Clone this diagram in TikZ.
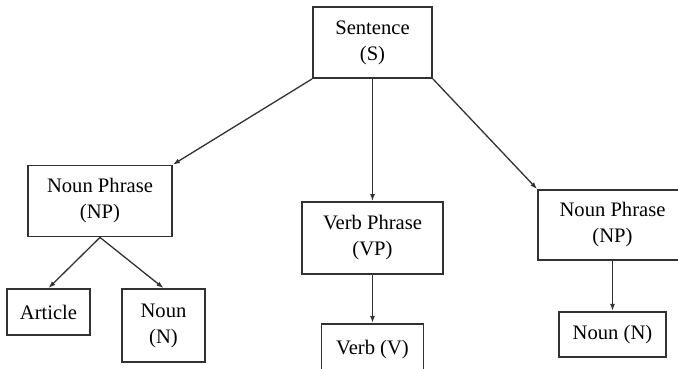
\documentclass[tikz,border=0pt]{standalone}
\usepackage{fontspec}
\setmainfont{Liberation Serif}
\usetikzlibrary{arrows.meta,positioning}
\definecolor{lineGray}{RGB}{50,50,50}
\tikzset{
  box/.style={draw=lineGray, line width=1.8pt, fill=white, align=center, inner sep=2pt,
              font=\fontsize{20.6}{26}\selectfont, text=black},
  arrow/.style={-{Latex[length=7pt,width=5pt]}, line width=1.3pt, draw=lineGray}
}

\begin{document}
\begin{tikzpicture}[x=1pt, y=-1pt]
\useasboundingbox (0,0) rectangle (678,368);
\clip (0,0) rectangle (678,368);
\node[box, minimum width=119pt, minimum height=71pt] (sent) at (372.5,42.5) {Sentence\\(S)};
% phrase level
\node[box, minimum width=144pt, minimum height=71pt] (npl) at (100,201) {Noun Phrase\\(NP)};
\node[box, minimum width=141pt, minimum height=72pt] (vp) at (372.5,238) {Verb Phrase\\(VP)};
\node[box, minimum width=149pt, minimum height=70pt] (npr) at (612.5,225) {Noun Phrase\\(NP)};
% word level
\node[box, minimum width=83pt, minimum height=46pt] (art) at (48.5,312) {Article};
\node[box, minimum width=83pt, minimum height=73pt] (nounl) at (163.5,325.5) {Noun\\(N)};
\node[box, minimum width=102pt, minimum height=52pt, below=48pt of vp] (verb) {Verb (V)};
\node[box, minimum width=107pt, minimum height=45pt, below=50pt of npr] (nounr) {Noun (N)};
\draw[arrow] (sent.south west) -- (npl.north east);
\draw[arrow] (sent) -- (vp);
\draw[arrow] (sent.south east) -- (npr.north west);
\draw[arrow] (npl.south) -- (art.north);
\draw[arrow] (npl.south) -- (nounl.north);
\draw[arrow] (vp) -- (verb);
\draw[arrow] (npr) -- (nounr);
\end{tikzpicture}
\end{document}
